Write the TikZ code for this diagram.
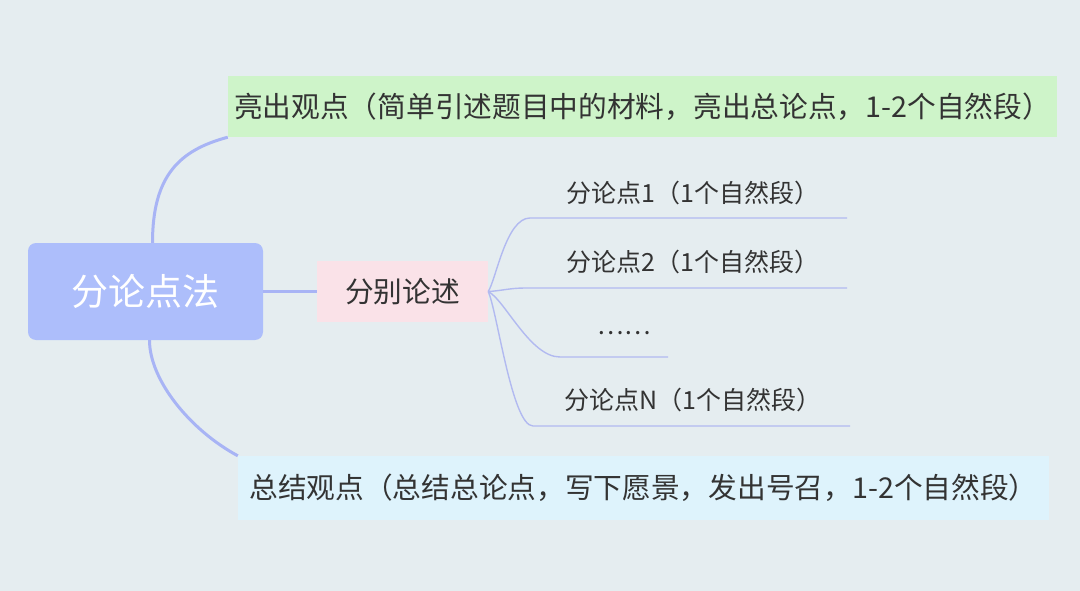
\documentclass[tikz,border=0pt]{standalone}
\usepackage{fontspec}
\setmainfont{Noto Sans CJK SC}
\definecolor{bgc}{RGB}{229,237,240}
\definecolor{rootc}{RGB}{173,190,251}
\definecolor{greenc}{RGB}{206,244,201}
\definecolor{pinkc}{RGB}{250,226,232}
\definecolor{bluec}{RGB}{222,243,252}
\definecolor{mainc}{RGB}{168,180,245}
\definecolor{subc}{RGB}{178,186,240}
\definecolor{textc}{RGB}{51,51,51}
\begin{document}
\begin{tikzpicture}[x=1pt,y=-1pt,
  rootbox/.style={fill=rootc, rounded corners=8pt, text=white, inner sep=0pt,
    font=\fontsize{37}{42}\selectfont},
  topicbox/.style={inner sep=0pt, text=textc, font=\fontsize{28.7}{34}\selectfont},
  subtext/.style={inner sep=0pt, text=textc, font=\fontsize{25}{29}\selectfont},
  mainline/.style={draw=mainc, line width=3pt},
  subline/.style={draw=subc, line width=1.4pt}]
\fill[bgc] (0,0) rectangle (1080,591);
\useasboundingbox (0,0) rectangle (1080,591);

% nodes
\node[rootbox, minimum width=235pt, minimum height=97pt] (root) at (145.5,291.5) {分论点法};
\node[topicbox, fill=greenc, minimum width=829pt, minimum height=61pt] (top) at (642.5,106.5)
  {亮出观点（简单引述题目中的材料，亮出总论点，1-2个自然段）};
\node[topicbox, fill=pinkc, minimum width=171pt, minimum height=61pt] (mid) at (402.5,291.5) {分别论述};
\node[topicbox, fill=bluec, minimum width=811pt, minimum height=64pt] (bot) at (643.5,488)
  {总结观点（总结总论点，写下愿景，发出号召，1-2个自然段）};

\node[subtext] (s1) at (693,193) {分论点1（1个自然段）};
\node[subtext] (s2) at (693,262) {分论点2（1个自然段）};
\node[subtext] (s3) at (624,333) {……};
\node[subtext] (s4) at (693,400) {分论点N（1个自然段）};

\coordinate (s1a) at (530,218);  \coordinate (s1b) at (847,218);
\coordinate (s2a) at (525,288);  \coordinate (s2b) at (847,288);
\coordinate (s3a) at (560,357);  \coordinate (s3b) at (668,357);
\coordinate (s4a) at (533,426);  \coordinate (s4b) at (850,426);

% main connectors
\draw[mainline] ([xshift=7pt]root.north) .. controls (152.5,175) and (180,150) .. (top.south west);
\draw[mainline] ([xshift=4pt]root.south) .. controls (149.5,380) and (190,430) .. (bot.north west);
\draw[mainline] (root.east) -- (mid.west);

% sub connectors
\draw[subline] (mid.east) .. controls (496,280) and (506,218) .. (s1a) -- (s1b);
\draw[subline] (mid.east) .. controls (500,291) and (510,288) .. (s2a) -- (s2b);
\draw[subline] (mid.east) .. controls (505,300) and (530,357) .. (s3a) -- (s3b);
\draw[subline] (mid.east) .. controls (497,310) and (512,426) .. (s4a) -- (s4b);
\end{tikzpicture}
\end{document}
